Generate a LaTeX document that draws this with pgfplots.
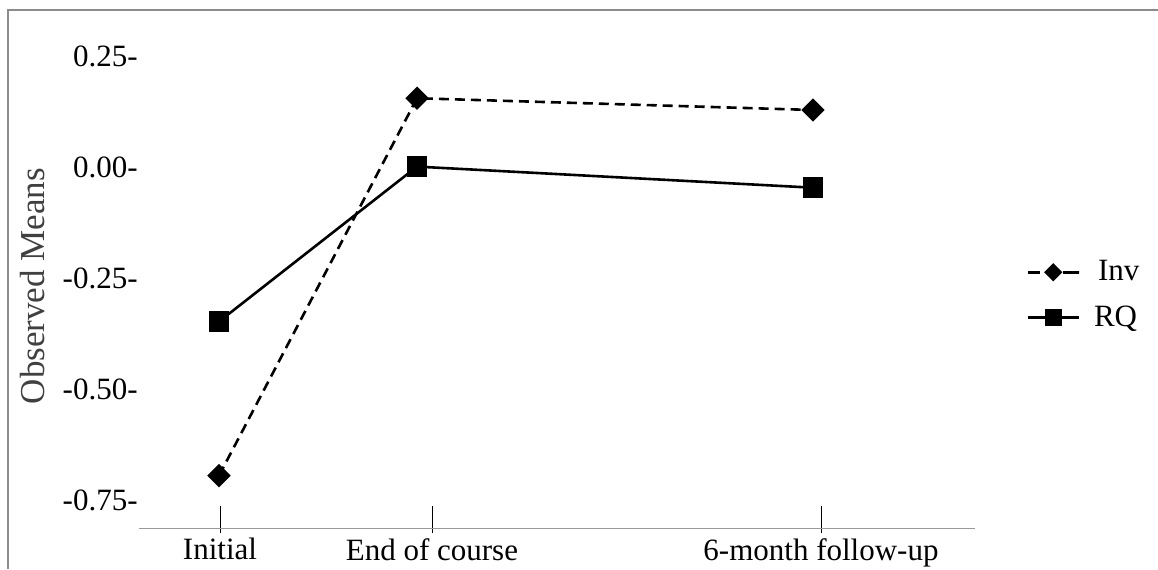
\documentclass[border=0pt]{standalone}
\usepackage{pgfplots}
\pgfplotsset{compat=1.18}
\usepackage{fontspec}
\setmainfont{Liberation Serif}
\begin{document}
\begin{tikzpicture}
\begin{axis}[
  at={(69.5pt,20.5pt)}, anchor=south west,
  scale only axis, width=418pt, height=257.95pt,
  xmin=139, xmax=975, ymin=-0.812, ymax=0.35,
  axis x line*=bottom, axis y line*=left,
  x axis line style={-, gray!80, line width=0.5pt},
  y axis line style={draw=none},
  xtick={220,432,821},
  xticklabels={Initial, End of course, 6-month follow-up},
  ytick={-0.75,-0.5,-0.25,0,0.25},
  yticklabels={-0.75-,-0.50-,-0.25-,0.00-,0.25-},
  ytick style={draw=none},
  xtick style={black, line width=0.5pt, yshift=-2.5pt},
  tick align=inside, major tick length=13.5pt,
  every tick label/.append style={font=\fontsize{15.5pt}{18pt}\selectfont},
  yticklabel style={anchor=east, inner sep=0pt, xshift=-0.5pt},
  xticklabel style={anchor=north, inner sep=0pt, yshift=-5pt},
  ylabel={Observed Means},
  ylabel style={at={(axis description cs:-0.1268,0.469)}, anchor=center, font=\fontsize{17.5pt}{20pt}\selectfont, color=black!75},
  clip=false,
  legend image code/.code={\draw[mark repeat=2,mark phase=2,#1] plot coordinates {(0pt,0pt)(12.75pt,0pt)(25.5pt,0pt)};},
  legend style={draw=none, fill=none, at={(axis description cs:1.061,0.4516)}, anchor=west, inner sep=0pt, row sep=7pt, font=\fontsize{15.5pt}{18pt}\selectfont},
  legend cell align=left,
]
\addplot[black, line width=1.3pt, dash pattern=on 5pt off 3pt, mark=square*, mark size=3.5pt, mark options={rotate=45, solid}, forget plot] coordinates {(219,-0.694)(417,0.156)(813,0.1295)};
\addplot[black, line width=1.3pt, mark=square*, mark size=4.5pt, forget plot] coordinates {(219,-0.347)(417,0.002)(813,-0.0455)};
\addlegendimage{black, line width=1.3pt, dash pattern=on 6pt off 11.5pt on 8pt off 0pt, mark=square*, mark size=2.6pt, mark options={rotate=45,solid}}
\addlegendentry{\hspace{7pt}Inv}
\addlegendimage{black, line width=1.3pt, mark=square*, mark size=3.5pt}
\addlegendentry{\hspace{5pt}RQ}
\end{axis}
\draw[gray!90, line width=1pt] (4pt,0pt) -- (4pt,279.5pt) -- (579pt,279.5pt);
\pgfresetboundingbox
\useasboundingbox (0,0) rectangle (579pt,284.5pt);
\end{tikzpicture}
\end{document}
